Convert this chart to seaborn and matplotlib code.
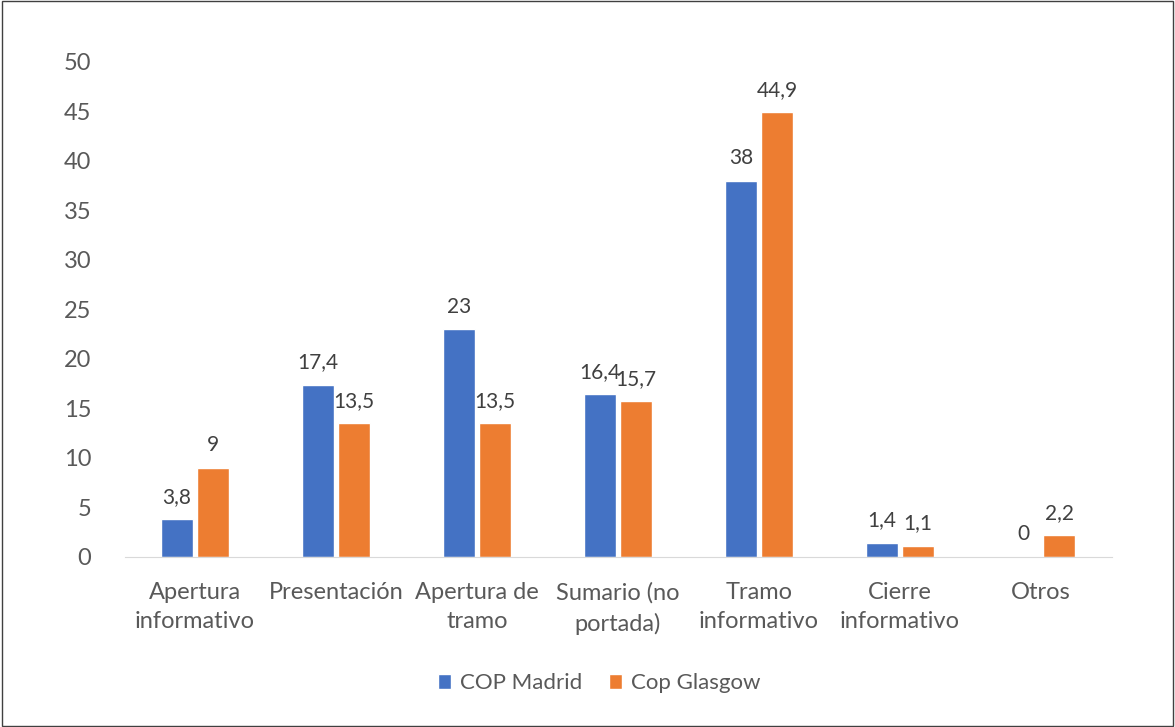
import pandas as pd
import seaborn as sns
import matplotlib.pyplot as plt
from matplotlib.patches import Rectangle

categories = ["Apertura\ninformativo", "Presentación", "Apertura de\ntramo",
              "Sumario (no\nportada)", "Tramo\ninformativo", "Cierre\ninformativo", "Otros"]
madrid = [3.8, 17.4, 23, 16.4, 38, 1.4, 0]
glasgow = [9, 13.5, 13.5, 15.7, 44.9, 1.1, 2.2]
series = ["COP Madrid", "Cop Glasgow"]
yticks = [0, 5, 10, 15, 20, 25, 30, 35, 40, 45, 50]

df = pd.DataFrame({
    "Categoria": categories * 2,
    "Valor": madrid + glasgow,
    "Serie": [series[0]] * len(categories) + [series[1]] * len(categories),
})

sns.set_style("white")
plt.rcParams["font.family"] = ["Lato", "DejaVu Sans"]
text_color = "#595959"

fig = plt.figure(figsize=(11.75, 7.27), dpi=100)
ax = fig.add_axes([0.106, 0.234, 0.84, 0.681])

sns.barplot(data=df, x="Categoria", y="Valor", hue="Serie",
            palette=["#4472C4", "#ED7D31"], width=0.51, gap=0.11,
            saturation=1, ax=ax)

for cont in ax.containers:
    labels = [f"{v:g}".replace(".", ",") for v in cont.datavalues]
    ax.bar_label(cont, labels=labels, padding=9, fontsize=15, color="#404040")

ax.set_xlim(-0.5, len(categories) - 0.5)
ax.set_ylim(0, 50)
ax.set_yticks(yticks)
ax.set_xlabel("")
ax.set_ylabel("")
ax.tick_params(axis="both", length=0, labelsize=17, labelcolor=text_color)
ax.tick_params(axis="x", pad=18)
ax.tick_params(axis="y", pad=24)
for lbl in ax.get_xticklabels():
    lbl.set_linespacing(1.5)
for side in ["top", "right", "left"]:
    ax.spines[side].set_visible(False)
ax.spines["bottom"].set_color("#D9D9D9")

ax.legend_.remove()
handles, lbls = ax.get_legend_handles_labels()
fig.legend(handles, lbls, loc="center", bbox_to_anchor=(0.51, 0.06), ncol=2,
           frameon=False, fontsize=16, handlelength=0.6, handleheight=0.6,
           columnspacing=1.2, handletextpad=0.4, labelcolor=text_color)

fig.patches.append(Rectangle((0.002, 0.002), 0.996, 0.996, transform=fig.transFigure,
                             fill=False, edgecolor="#404040", linewidth=1))

fig.savefig("out.png", dpi=100)
